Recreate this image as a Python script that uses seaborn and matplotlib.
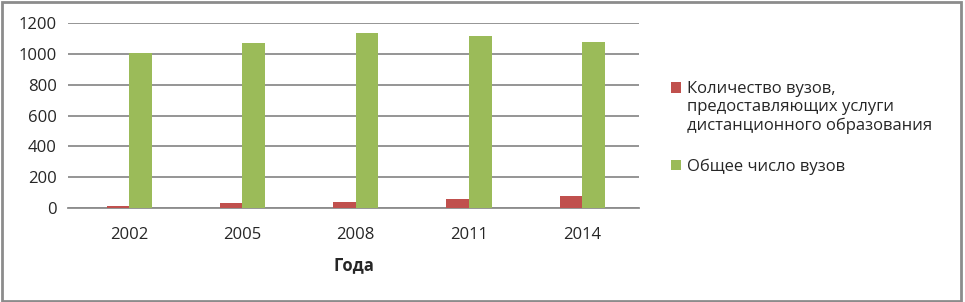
import pandas as pd
import matplotlib
matplotlib.use('Agg')
import matplotlib.pyplot as plt
import seaborn as sns
from matplotlib.patches import Rectangle

# data
years = ['2002', '2005', '2008', '2011', '2014']
distance_unis = [15, 30, 40, 60, 75]
total_unis = [1005, 1070, 1135, 1115, 1080]
series_names = ['Количество вузов,\nпредоставляющих услуги\nдистанционного образования',
                'Общее число вузов']

df = pd.DataFrame({
    'year': years * 2,
    'value': distance_unis + total_unis,
    'series': [series_names[0]] * len(years) + [series_names[1]] * len(years),
})

sns.set_style('white')
plt.rcParams['font.family'] = ['Open Sans', 'DejaVu Sans']
FS = 12

fig = plt.figure(figsize=(9.65, 3.02), dpi=100)
ax = fig.add_axes([68 / 965, 1 - 208 / 302, 571 / 965, 185 / 302])

sns.barplot(data=df, x='year', y='value', hue='series', ax=ax,
            palette=['#C0504D', '#9BBB59'], width=0.4, saturation=1,
            edgecolor='none', zorder=3)

ax.set_ylim(0, 1200)
ax.set_yticks(range(0, 1201, 200))
ax.set_xlim(-0.54, 4.5)
ax.yaxis.grid(True, color='#8c8c8c', linewidth=1.3, zorder=0)
for s in ['top', 'right', 'left']:
    ax.spines[s].set_visible(False)
ax.spines['bottom'].set_color('#8c8c8c')
ax.spines['bottom'].set_linewidth(1.3)
ax.tick_params(axis='x', labelsize=FS, length=0, pad=14)
ax.tick_params(axis='y', labelsize=FS, length=0, pad=8)
ax.set_ylabel('')
ax.set_xlabel('Года', fontsize=FS, fontweight='bold', labelpad=9)

handles, labels = ax.get_legend_handles_labels()
leg = ax.legend(handles, labels, loc='upper left', bbox_to_anchor=(656 / 965, 1 - 66 / 302),
                bbox_transform=fig.transFigure,
                frameon=False, fontsize=FS, handlelength=0.6, handleheight=0.6,
                handletextpad=0.36, labelspacing=1.45)
# put the first marker next to the first text line, as in the original
p = leg.legend_handles[0]
p.set_y(p.get_y() + 1.2 * FS)

fig.patches.append(Rectangle((0.002, 0.004), 0.994, 0.99, transform=fig.transFigure,
                             fill=False, edgecolor='#8c8c8c', linewidth=2))

fig.savefig('out.png', dpi=100)
